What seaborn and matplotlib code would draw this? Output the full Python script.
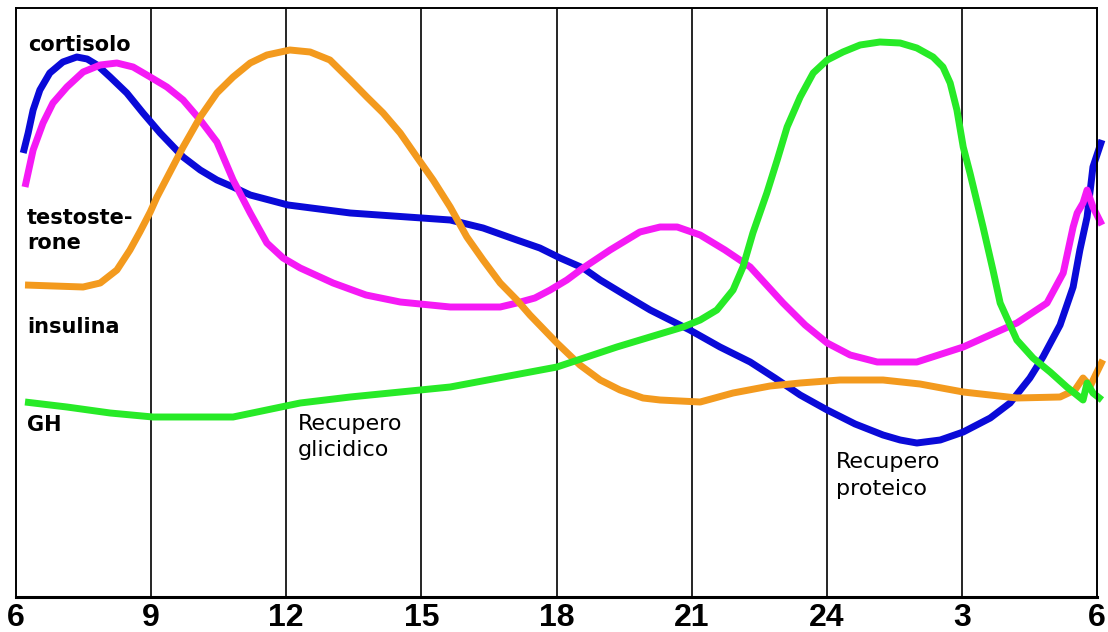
import numpy as np
import pandas as pd
import matplotlib
matplotlib.use("Agg")
import matplotlib.pyplot as plt
import seaborn as sns

# hours after 06:00 and relative hormone level (arbitrary units)
cort_h = [0.16, 0.27, 0.38, 0.53, 0.75, 1.04, 1.35, 1.58, 1.80, 2.09, 2.46, 2.82, 3.20, 3.71, 4.09, 4.46, 4.82,
          5.20, 6.04, 7.42, 9.01, 9.64, 10.37, 11.12, 11.63, 12.08, 12.59, 12.97, 13.52, 14.08, 14.96, 15.63,
          16.30, 16.85, 17.41, 18.01, 18.63, 19.25, 19.63, 20.00, 20.52, 21.03, 21.63, 22.07, 22.51, 22.80,
          23.18, 23.47, 23.62, 23.78, 23.91, 24.11]
cort_v = [444, 464, 487, 507, 524, 535, 540, 538, 532, 520, 504, 484, 464, 440, 427, 417, 410,
          402, 392, 384, 379, 377, 369, 357, 349, 339, 329, 317, 302, 287, 267, 250,
          235, 219, 202, 187, 173, 162, 157, 154, 157, 165, 179, 194, 219, 240,
          272, 310, 347, 380, 430, 457]

test_h = [0.20, 0.38, 0.60, 0.82, 1.13, 1.49, 1.87, 2.24, 2.60, 2.98, 3.35, 3.71, 4.09, 4.46, 4.82, 5.20,
          5.57, 5.93, 6.31, 7.04, 7.77, 8.53, 9.64, 10.75, 11.12, 11.52, 11.86, 12.23, 12.59, 13.19,
          13.85, 14.30, 14.68, 15.19, 15.74, 16.30, 17.03, 17.52, 18.01, 18.52, 19.12, 20.00, 21.03, 22.22,
          22.89, 23.25, 23.47, 23.56, 23.69, 23.78, 23.91, 24.11]
test_v = [410, 447, 474, 494, 510, 525, 532, 534, 530, 520, 510, 497, 477, 455, 417, 384,
          354, 339, 329, 314, 302, 295, 290, 290, 294, 299, 307, 317, 329, 347,
          365, 370, 370, 362, 347, 330, 294, 272, 254, 242, 235, 235, 250, 274,
          294, 324, 370, 384, 394, 407, 390, 372]

ins_h = [0.20, 1.49, 1.87, 2.24, 2.53, 2.75, 2.98, 3.13, 3.35, 3.71, 4.09, 4.46, 4.82, 5.20, 5.57, 6.08,
         6.53, 6.97, 7.42, 7.79, 8.15, 8.53, 8.90, 9.26, 9.64, 10.01, 10.37, 10.75, 11.12, 11.41, 12.01,
         12.52, 12.97, 13.41, 13.92, 14.30, 15.19, 15.92, 16.74, 17.41, 18.29, 19.25, 20.07, 21.03, 22.22,
         23.18, 23.51, 23.69, 23.85, 24.00, 24.13]
ins_v = [312, 310, 314, 327, 347, 365, 385, 400, 419, 450, 480, 504, 520, 534, 542, 547,
         545, 537, 517, 500, 484, 464, 440, 417, 390, 360, 337, 314, 297, 282, 254,
         232, 217, 207, 199, 197, 195, 204, 211, 214, 217, 217, 213, 205, 199,
         200, 207, 219, 211, 225, 237]

gh_h = [0.20, 1.13, 2.09, 3.04, 4.82, 6.31, 7.42, 9.64, 12.01, 13.34, 14.81, 15.19, 15.56, 15.92, 16.14,
        16.36, 16.67, 16.90, 17.12, 17.41, 17.70, 18.01, 18.36, 18.74, 19.18, 19.63, 20.00, 20.36, 20.58,
        20.74, 20.89, 21.03, 21.18, 21.47, 21.69, 21.85, 22.22, 22.58, 22.96, 23.33, 23.69, 23.78, 23.91, 24.11]
gh_v = [195, 190, 184, 180, 180, 194, 200, 210, 230, 250, 270, 277, 287, 307, 330,
        364, 404, 437, 470, 500, 524, 537, 545, 552, 555, 554, 549, 540, 530,
        514, 487, 450, 424, 370, 327, 294, 257, 239, 225, 210, 197, 214, 204, 197]

series_names = ["cortisolo", "testosterone", "insulina", "GH"]
series_colors = ["#0a0ad8", "#f51af5", "#f39a1e", "#27ea27"]
tick_pos = [0, 3, 6, 9, 12, 15, 18, 21, 24]
tick_labels = ["6", "9", "12", "15", "18", "21", "24", "3", "6"]

frames = []
for name, hh, vv in zip(series_names, [cort_h, test_h, ins_h, gh_h], [cort_v, test_v, ins_v, gh_v]):
    frames.append(pd.DataFrame({"ora": hh, "livello": vv, "ormone": name}))
df = pd.concat(frames, ignore_index=True)

sns.set_theme(style="white")
fig = plt.figure(figsize=(11.08, 6.32), dpi=100)
ax = fig.add_axes([16 / 1108, 35 / 632, 1081 / 1108, 589 / 632])

sns.lineplot(data=df, x="ora", y="livello", hue="ormone", hue_order=series_names,
             palette=series_colors, sort=False, estimator=None, units="ormone",
             linewidth=5.0, legend=False, ax=ax,
             solid_capstyle="butt", solid_joinstyle="round")
for ln in ax.get_lines():
    ln.set_clip_on(False)

ax.set_xlim(0, 24)
ax.set_ylim(0, 589)
ax.set_xticks(tick_pos)
ax.set_xticklabels(tick_labels, fontsize=23, fontweight="bold", family=["Liberation Sans", "DejaVu Sans"])
ax.set_yticks([])
ax.set_xlabel("")
ax.set_ylabel("")
ax.tick_params(axis="x", length=0, pad=4, colors="black")
for t in tick_pos[1:-1]:
    ax.axvline(t, color="black", linewidth=1.2, zorder=0)
for side in ["left", "top", "right"]:
    ax.spines[side].set_color("black")
    ax.spines[side].set_linewidth(1.4)
ax.spines["bottom"].set_color("black")
ax.spines["bottom"].set_linewidth(2.2)

lab_kw = dict(fontsize=15, fontweight="bold", color="black", ha="left", va="center",
              family=["DejaVu Sans"])
ax.text(0.26, 597 - 45, "cortisolo", **lab_kw)
ax.text(0.24, 597 - 218, "testoste-", **lab_kw)
ax.text(0.24, 597 - 243, "rone", **lab_kw)
ax.text(0.24, 597 - 327, "insulina", **lab_kw)
ax.text(0.24, 597 - 425, "GH", **lab_kw)

note_kw = dict(fontsize=16, color="black", ha="left", va="center", family=["DejaVu Sans"])
ax.text(6.26, 597 - 424, "Recupero", **note_kw)
ax.text(6.26, 597 - 450, "glicidico", **note_kw)
ax.text(18.20, 597 - 462, "Recupero", **note_kw)
ax.text(18.20, 597 - 489, "proteico", **note_kw)

fig.savefig("out.png", dpi=100, facecolor="white")
